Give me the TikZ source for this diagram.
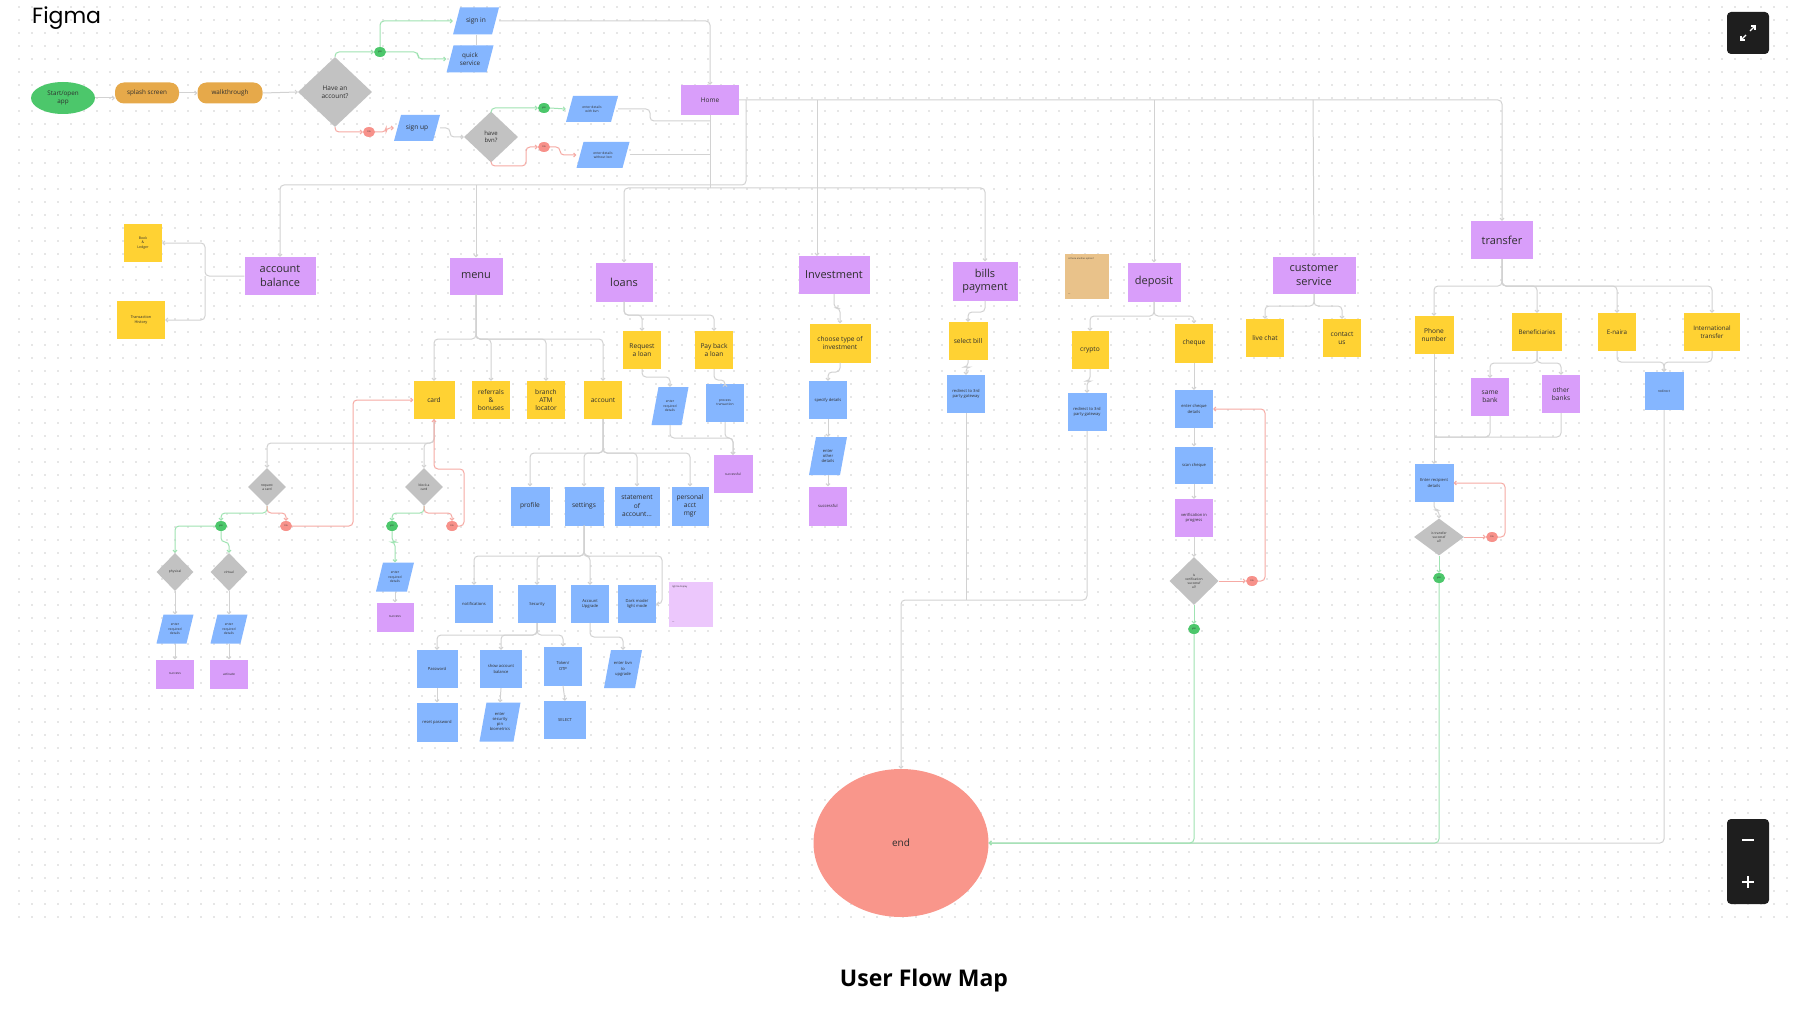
\documentclass[tikz,border=0pt]{standalone}
\usepackage{fontspec}
\setmainfont{Open Sans}
\newfontfamily\popfont{Poppins}
\usetikzlibrary{shapes.geometric,calc,arrows.meta,patterns.meta}
\definecolor{cpurp}{HTML}{D99EFA}
\definecolor{cblue}{HTML}{85B6FF}
\definecolor{cyel}{HTML}{FFD233}
\definecolor{cgray}{HTML}{C2C2C2}
\definecolor{cgreen}{HTML}{4CC76B}
\definecolor{cred}{HTML}{F7918A}
\definecolor{lgreen}{HTML}{9FE3B2}
\definecolor{lred}{HTML}{F6AAA4}
\definecolor{lgray}{HTML}{D2D2D2}
\definecolor{corange}{HTML}{E6A94A}
\definecolor{cend}{HTML}{F9968B}
\definecolor{ctan}{HTML}{E9C28A}
\definecolor{clav}{HTML}{ECC7FC}
\definecolor{dotc}{HTML}{CDCDCD}
\definecolor{cdark}{HTML}{1E1E1E}
\definecolor{ctext}{HTML}{2E2E2E}
\tikzdeclarepattern{
  name=gdots,
  type=colored,
  bounding box={(0pt,0pt) and (13pt,13pt)},
  tile size={(13pt,13pt)},
  code={\fill[dotc] (6.5pt,6.5pt) circle[radius=0.95pt];}
}
\tikzset{
  base/.style={inner sep=0pt, align=center, text=ctext},
  sz/.style 2 args={minimum width=#1pt, minimum height=#2pt},
  pbox/.style={base, rectangle, fill=cpurp},
  ybox/.style={base, rectangle, fill=cyel},
  bbox/.style={base, rectangle, fill=cblue},
  para/.style={base, rectangle, path picture={\fill[cblue] ($(path picture bounding box.north west)+(7pt,0pt)$) -- (path picture bounding box.north east) -- ($(path picture bounding box.south east)+(-7pt,0pt)$) -- (path picture bounding box.south west) -- cycle;}},
  dia/.style={base, diamond, fill=cgray},
  yesd/.style={base, ellipse, fill=cgreen, minimum width=12pt, minimum height=10pt, font=\fontsize{2.5}{3}\selectfont},
  nod/.style={base, ellipse, fill=cred, minimum width=12pt, minimum height=10pt, font=\fontsize{2.5}{3}\selectfont},
  fbig/.style={font=\fontsize{11}{13.5}\selectfont},
  fmid/.style={font=\fontsize{6.6}{8.2}\selectfont},
  fsm/.style={font=\fontsize{4.1}{5.1}\selectfont},
  ftiny/.style={font=\fontsize{3.3}{4.1}\selectfont},
  fdot/.style={font=\fontsize{2.3}{2.8}\selectfont},
  conn/.style={draw=lgray, line width=1pt, rounded corners=4pt, -{Straight Barb[length=2pt,width=4pt]}},
  bus/.style={draw=lgray, line width=1pt, rounded corners=4pt},
  gconn/.style={conn, draw=lgreen},
  rconn/.style={conn, draw=lred},
}
\newcommand\tedge[4][conn]{\draw[#1] (#2.south) -- (#2.south |- 0,#4) -- (#3.north |- 0,#4) -- (#3.north);}
\newcommand\vedge[3][conn]{\draw[#1] (#2.south) -- (#3.north);}
\begin{document}
\begin{tikzpicture}[x=1pt,y=-1pt]
\useasboundingbox (0,0) rectangle (1800,1014);
\fill[white] (0,0) rectangle (1800,1014);
\fill[pattern=gdots] (18,6) rectangle (1788,928);

% ---- chrome
\node[font=\popfont\fontsize{22}{26}\selectfont, anchor=west, text=black, inner sep=0pt] (figma) at (32,18) {Figma};
\node[font=\bfseries\fontsize{23}{27}\selectfont, text=black] (title) at (924,981) {User Flow Map};
\fill[cdark, rounded corners=4pt] (1727,12) rectangle (1769,54);
\draw[white, line width=1.2pt] (1741,36) -- (1741,40) -- (1745,40);
\draw[white, line width=1.2pt] (1741,40) -- (1746,35);
\draw[white, line width=1.2pt] (1751,26) -- (1755,26) -- (1755,30);
\draw[white, line width=1.2pt] (1755,26) -- (1750,31);
\fill[cdark, rounded corners=4pt] (1727,819) rectangle (1769,904);
\draw[white, line width=1.2pt] (1742,840) -- (1754,840);
\draw[white, line width=1.2pt] (1742,882) -- (1754,882);
\draw[white, line width=1.2pt] (1748,876) -- (1748,888);

% ---- top flow
\node[base, ellipse, fill=cgreen, sz={64}{32}, font=\fontsize{6.3}{7.6}\selectfont] (start) at (63,98) {Start/open\\app};
\node[base, rounded corners=9pt, fill=corange, sz={64}{21}, font=\fontsize{6.3}{7.6}\selectfont] (splash) at (147,93) {splash screen};
\node[base, rounded corners=9pt, fill=corange, sz={65}{21}, font=\fontsize{6.3}{7.6}\selectfont] (walk) at (230,93) {walkthrough};
\node[dia, sz={74}{70}, font=\fontsize{6.5}{8}\selectfont] (hac) at (335,92) {Have an\\account?};
\node[para, sz={46}{27}, fmid] (signin) at (476,21) {sign in};
\node[para, sz={47}{27}, font=\fontsize{6.3}{7.8}\selectfont] (quick) at (470,59) {quick\\service};
\node[yesd] (yes1) at (380,52) {yes};
\node[para, sz={46}{26}, fmid] (signup) at (417,128) {sign up};
\node[nod] (no1) at (369,132) {no};
\node[dia, sz={54}{51}, font=\fontsize{6}{7.4}\selectfont] (bvn) at (491,137) {have\\bvn?};
\node[yesd] (yes2) at (544,108) {yes};
\node[nod] (no2) at (544,147) {no};
\node[para, sz={52}{26}, ftiny] (withbvn) at (592,109) {enter details\\with bvn};
\node[para, sz={53}{26}, ftiny] (nobvn) at (603,155) {enter details\\without bvn};
\node[pbox, sz={58}{30}, font=\fontsize{6.5}{8}\selectfont] (home) at (710,100) {Home};

% ---- main categories
\node[pbox, sz={71}{38}, fbig] (accbal) at (280,276) {account\\balance};
\node[pbox, sz={53}{37}, fbig] (menu) at (476,276) {menu};
\node[pbox, sz={57}{39}, fbig] (loans) at (624,282) {loans};
\node[pbox, sz={71}{38}, fbig] (inv) at (834,275) {Investment};
\node[pbox, sz={65}{39}, fbig] (bills) at (985,281) {bills\\payment};
\node[base, fill=ctan, sz={44}{45}] (tan) at (1087,276) {};
\node[base, anchor=north west, fdot] (tantext) at (1068,258) {is there another option?};
\node[base, anchor=south west, fdot] (tanfoot) at (1068,295) {---};
\node[pbox, sz={53}{39}, fbig] (deposit) at (1154,282) {deposit};
\node[pbox, sz={83}{37}, fbig] (cs) at (1314,275) {customer\\service};
\node[pbox, sz={62}{38}, fbig] (transfer) at (1502,240) {transfer};

% ---- account balance
\node[ybox, sz={38}{38}, font=\fontsize{3.5}{4.3}\selectfont] (book) at (143,243) {Book\\\&\\Ledger};
\node[ybox, sz={48}{38}, font=\fontsize{3.8}{4.6}\selectfont] (trans) at (141,320) {Transaction\\History};

% ---- menu
\node[ybox, sz={41}{38}, fmid] (card) at (434,400) {card};
\node[ybox, sz={38}{38}, fmid] (refer) at (491,400) {referrals\\\&\\bonuses};
\node[ybox, sz={38}{38}, fmid] (branch) at (546,400) {branch\\ATM\\locator};
\node[ybox, sz={38}{38}, fmid] (account) at (603,400) {account};
\node[bbox, sz={39}{39}, fmid] (profile) at (530,506) {profile};
\node[bbox, sz={39}{39}, fmid] (settings) at (584,506) {settings};
\node[bbox, sz={45}{39}, fmid] (statement) at (637,506) {statement\\of\\account...};
\node[bbox, sz={37}{39}, fmid] (personal) at (690,506) {personal\\acct\\mgr};

% ---- loans
\node[ybox, sz={38}{38}, fmid] (request) at (642,350) {Request\\a loan};
\node[ybox, sz={38}{38}, fmid] (payback) at (714,350) {Pay back\\a loan};
\node[para, sz={37}{38}, ftiny] (lpara) at (670,406) {enter\\required\\details};
\node[bbox, sz={38}{38}, ftiny] (process) at (725,403) {process\\transaction};
\node[pbox, sz={39}{38}, ftiny] (lsucc) at (733,474) {successful};

% ---- card tree
\node[dia, sz={38}{38}, ftiny] (reqcard) at (267,487) {request\\a card};
\node[dia, sz={38}{38}, ftiny] (blockcard) at (424,487) {block a\\card};
\node[yesd] (yesA) at (221,526) {yes};
\node[nod] (noA) at (286,526) {no};
\node[yesd] (yesB) at (392,526) {yes};
\node[nod] (noB) at (452,526) {no};
\node[dia, sz={37}{38}, ftiny] (physical) at (175,572) {physical};
\node[dia, sz={37}{38}, ftiny] (virtual) at (229,572) {virtual};
\node[para, sz={37}{29}, ftiny] (para1) at (175,629) {enter\\required\\details};
\node[para, sz={37}{29}, ftiny] (para2) at (229,629) {enter\\required\\details};
\node[pbox, sz={38}{29}, ftiny] (succ1) at (175,674) {success};
\node[pbox, sz={38}{29}, ftiny] (activate) at (229,674) {activate};
\node[para, sz={38}{29}, ftiny] (para3) at (395,577) {enter\\required\\details};
\node[pbox, sz={37}{29}, ftiny] (succ3) at (395,617) {success};

% ---- settings tree
\node[bbox, sz={38}{38}, fsm] (notif) at (474,604) {notifications};
\node[bbox, sz={38}{38}, fsm] (security) at (537,604) {Security};
\node[bbox, sz={38}{38}, fsm] (acctupg) at (590,604) {Account\\Upgrade};
\node[bbox, sz={38}{38}, fsm] (dark) at (637,604) {Dark mode/\\light mode};
\node[base, fill=clav, sz={44}{45}] (lav) at (691,604) {};
\node[base, anchor=north west, fdot] (lavtext) at (672,586) {light \& display};
\node[base, anchor=south west, fdot] (lavfoot) at (672,623) {---};
\node[bbox, sz={41}{38}, fsm] (password) at (437,669) {Password};
\node[bbox, sz={42}{38}, fsm] (showbal) at (501,669) {show account\\balance};
\node[bbox, sz={38}{39}, fsm] (token) at (563,666) {Token/\\OTP};
\node[para, sz={38}{38}, fsm] (bvnupg) at (623,669) {enter bvn\\to\\upgrade};
\node[bbox, sz={41}{39}, fsm] (reset) at (437,722) {reset password};
\node[para, sz={41}{39}, fsm] (secpin) at (500,722) {enter\\security\\pin\\biometrics};
\node[bbox, sz={42}{38}, fsm] (select) at (565,720) {SELECT};

% ---- investment
\node[ybox, sz={61}{39}, fmid] (choose) at (840,343) {choose type of\\investment};
\node[bbox, sz={38}{38}, fsm] (specify) at (828,400) {specify details};
\node[para, sz={38}{38}, fsm] (iother) at (828,456) {enter\\other\\details};
\node[pbox, sz={38}{39}, fsm] (isucc) at (828,506) {successful};

% ---- bills
\node[ybox, sz={39}{38}, fmid] (selbill) at (968,341) {select bill};
\node[bbox, sz={38}{38}, fsm] (redir1) at (966,394) {redirect to 3rd\\party gateway};

% ---- deposit
\node[ybox, sz={37}{38}, fmid] (crypto) at (1090,350) {crypto};
\node[bbox, sz={39}{38}, fsm] (redir2) at (1087,412) {redirect to 3rd\\party gateway};
\node[ybox, sz={38}{39}, fmid] (cheque) at (1194,343) {cheque};
\node[bbox, sz={38}{38}, fsm] (entch) at (1194,409) {enter cheque\\details};
\node[bbox, sz={38}{37}, fsm] (scan) at (1194,465) {scan cheque};
\node[pbox, sz={38}{38}, fsm] (verif) at (1194,518) {verification in\\progress};
\node[dia, sz={49}{48}, ftiny] (diaC) at (1194,581) {is\\verification\\successf\\ul?};
\node[nod] (noC) at (1252,581) {no};
\node[yesd] (yesC) at (1194,629) {yes};

% ---- customer service
\node[ybox, sz={38}{38}, fmid] (live) at (1265,338) {live chat};
\node[ybox, sz={38}{38}, fmid] (contact) at (1342,338) {contact\\us};

% ---- transfer
\node[ybox, sz={39}{38}, fmid] (phone) at (1434,335) {Phone\\number};
\node[ybox, sz={50}{38}, font=\fontsize{6.2}{7.6}\selectfont] (benef) at (1537,332) {Beneficiaries};
\node[ybox, sz={38}{38}, font=\fontsize{6.2}{7.6}\selectfont] (enaira) at (1617,332) {E-naira};
\node[ybox, sz={56}{38}, font=\fontsize{6.2}{7.6}\selectfont] (intl) at (1712,332) {International\\transfer};
\node[pbox, sz={38}{38}, fmid] (same) at (1490,397) {same\\bank};
\node[pbox, sz={38}{38}, fmid] (obank) at (1561,394) {other\\banks};
\node[bbox, sz={39}{38}, ftiny] (redirT) at (1664,391) {redirect};
\node[bbox, sz={39}{38}, fsm] (recip) at (1434,483) {Enter recipient\\details};
\node[dia, sz={50}{37}, ftiny] (diaT) at (1439,537) {is transfer\\successf\\ul?};
\node[nod] (noT) at (1492,537) {no};
\node[yesd] (yesT) at (1439,578) {yes};

% ---- end
\node[base, ellipse, fill=cend, sz={175}{148}, font=\fontsize{10}{12}\selectfont] (endn) at (901,843) {end};

% ================= connectors
\draw[conn] (start.east) -- (splash.west |- start.east);
\draw[conn] (splash.east) -- (walk.west);
\draw[conn] (walk.east) -- (hac.west);
\draw[gconn] (hac.north) |- (yes1.west);
\draw[gconn] (yes1.north) |- (signin.west);
\draw[gconn] (yes1.east) -- (418,52) -- (418,59) -- (quick.west);
\draw[bus] (signin.south) -- (signin.south |- quick.north);
\draw[rconn] (hac.south) |- (no1.west);
\draw[rconn] (no1.east) -- (386,132) -- (386,128) -- (signup.west);
\draw[conn] (signup.east) -- (450,128) -- (450,137) -- (bvn.west);
\draw[gconn] (bvn.north) |- (yes2.west);
\draw[gconn] (yes2.east) -- (withbvn.west);
\draw[rconn] (bvn.south) -- (491,166) -- (526,166) -- (526,147) -- (no2.west);
\draw[rconn] (no2.east) -- (560,147) -- (560,155) -- (nobvn.west);
\draw[conn] (signin.east) -| (home.north);
\draw[bus] (withbvn.east) -- (650,109) -- (650,121) -- (710,121);
\draw[bus] (nobvn.east) -- (710,155);
\draw[bus] (home.south) -- (710,188);
\draw[conn] (home.east) -- (1502,100) -- (transfer.north);
\draw[conn] (746,100) -- (746,185) -- (280,185) -- (accbal.north);
\draw[conn] (476,185) -- (menu.north);
\draw[conn] (710,188) -- (624,188) -- (loans.north);
\draw[conn] (710,188) -- (985,188) -- (bills.north);
\draw[conn] (817,100) -- (inv.north -| 817,0);
\draw[conn] (1154,100) -- (deposit.north);
\draw[conn] (1313,100) -- (cs.north);

\draw[conn] (accbal.west) -- (205,276) -- (205,243) -- (book.east);
\draw[conn] (205,276) -- (205,320) -- (trans.east);

\tedge{menu}{card}{339}
\tedge{menu}{refer}{339}
\tedge{menu}{branch}{339}
\tedge{menu}{account}{339}
\tedge{account}{profile}{453}
\tedge{account}{settings}{453}
\tedge{account}{statement}{453}
\tedge{account}{personal}{453}

\tedge{loans}{request}{315}
\tedge{loans}{payback}{315}
\tedge{request}{lpara}{377}
\tedge{payback}{process}{380}
\tedge{lpara}{lsucc}{438}
\tedge{process}{lsucc}{438}

\tedge{card}{reqcard}{443}
\tedge{card}{blockcard}{443}
\draw[rconn] (noA.east) -- (353,526) -- (353,400) -- (card.west);
\draw[rconn] (noB.east) -- (464,526) -- (464,469) -- (434,469) -- (card.south);
\tedge[gconn]{reqcard}{yesA}{513}
\tedge[rconn]{reqcard}{noA}{513}
\tedge[gconn]{blockcard}{yesB}{513}
\tedge[rconn]{blockcard}{noB}{513}
\draw[gconn] (yesA.west) -| (physical.north);
\tedge[gconn]{yesA}{virtual}{542}
\vedge{physical}{para1}
\vedge{virtual}{para2}
\vedge{para1}{succ1}
\vedge{para2}{activate}
\tedge[gconn]{yesB}{para3}{542}
\vedge{para3}{succ3}

\tedge{settings}{notif}{556}
\tedge{settings}{security}{556}
\tedge{settings}{acctupg}{556}
\draw[conn] (settings.south) -- (584,556) -- (662,556) -- (662,604) -- (dark.east);
\tedge{security}{password}{635}
\tedge{security}{showbal}{635}
\tedge{security}{token}{635}
\tedge{acctupg}{bvnupg}{637}
\vedge{password}{reset}
\vedge{showbal}{secpin}
\vedge{token}{select}

\tedge{inv}{choose}{308}
\tedge{choose}{specify}{372}
\vedge{specify}{iother}
\vedge{iother}{isucc}

\tedge{bills}{selbill}{312}
\tedge{selbill}{redir1}{367}
\draw[bus] (redir1.south) -- (966,600);
\draw[conn] (redir2.south) -- (1087,600) -- (901,600) -- (endn.north);

\tedge{deposit}{crypto}{316}
\tedge{deposit}{cheque}{316}
\tedge{crypto}{redir2}{381}
\vedge{cheque}{entch}
\vedge{entch}{scan}
\vedge{scan}{verif}
\vedge{verif}{diaC}
\draw[rconn] (diaC.east) -- (noC.west);
\draw[rconn] (noC.east) -- (1265,581) -- (1265,409) -- (entch.east);
\draw[gconn] (diaC.south) -- (yesC.north);

\tedge{cs}{live}{306}
\tedge{cs}{contact}{306}

\tedge{transfer}{phone}{286}
\tedge{transfer}{benef}{286}
\tedge{transfer}{enaira}{286}
\tedge{transfer}{intl}{286}
\tedge{benef}{same}{363}
\tedge{benef}{obank}{363}
\tedge{enaira}{redirT}{362}
\tedge{intl}{redirT}{362}
\draw[conn] (phone.south) -- (recip.north);
\draw[bus] (same.south) -- (1490,437) -- (1434,437);
\draw[bus] (obank.south) -- (1561,437) -- (1434,437);
\tedge{recip}{diaT}{510}
\draw[rconn] (diaT.east) -- (noT.west);
\draw[rconn] (noT.east) -- (1505,537) -- (1505,483) -- (recip.east);
\draw[gconn] (diaT.south) -- (yesT.north);

\draw[conn] (redirT.south) -- (1664,843) -- (endn.east);
\draw[gconn] (yesT.south) -- (1439,843) -- (endn.east);
\draw[gconn] (yesC.south) -- (1194,843) -- (endn.east);
\end{tikzpicture}
\end{document}
